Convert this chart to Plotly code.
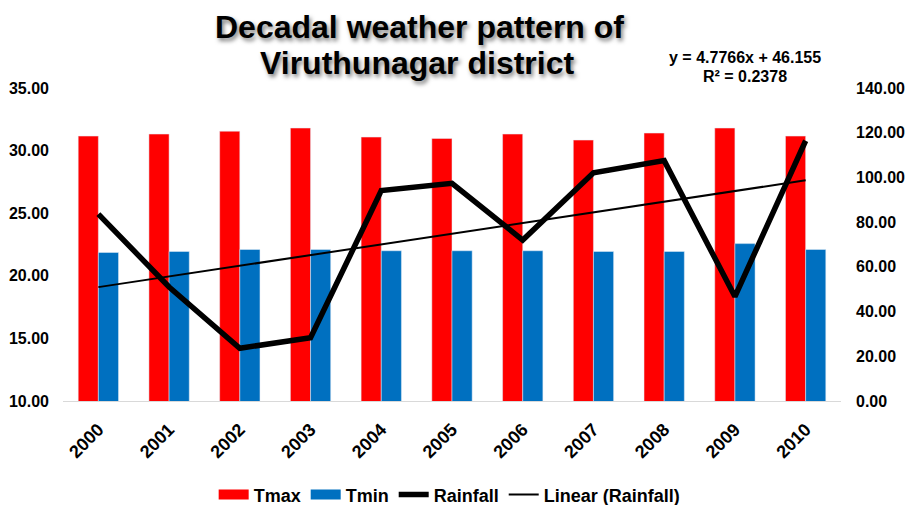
import plotly.graph_objects as go

years = ["2000", "2001", "2002", "2003", "2004", "2005", "2006", "2007", "2008", "2009", "2010"]
tmax = [31.16, 31.32, 31.55, 31.80, 31.08, 30.97, 31.32, 30.84, 31.40, 31.80, 31.16]
tmin = [21.86, 21.94, 22.10, 22.10, 22.00, 22.00, 22.00, 21.94, 21.94, 22.57, 22.10]
rainfall = [83.6, 51.0, 23.6, 28.3, 94.1, 97.4, 72.0, 102.1, 107.5, 46.7, 116.4]

# Linear trend as printed on the chart
trend_slope = 4.7766
trend_intercept = 46.155
trend_r2 = 0.2378
trend = [trend_slope * (i + 1) + trend_intercept for i in range(len(years))]

RED = "#FF0000"
BLUE = "#0070C0"
FONT = "Liberation Sans, Arial, sans-serif"

fig = go.Figure()
fig.add_trace(go.Bar(x=years, y=tmax, name="Tmax", marker_color=RED, yaxis="y", showlegend=False))
fig.add_trace(go.Bar(x=years, y=tmin, name="Tmin", marker_color=BLUE, yaxis="y", showlegend=False))
fig.add_trace(go.Scatter(x=years, y=rainfall, name="Rainfall", mode="lines",
                         line=dict(color="black", width=5.5), yaxis="y2", showlegend=False))
fig.add_trace(go.Scatter(x=years, y=trend, name="Linear (Rainfall)", mode="lines",
                         line=dict(color="black", width=2), yaxis="y2", showlegend=False))

# legend entries (wide swatches like the original)
for name, color, width in [("Tmax", RED, 12), ("Tmin", BLUE, 12),
                           ("Rainfall", "black", 5.5), ("Linear (Rainfall)", "black", 2)]:
    fig.add_trace(go.Scatter(x=[None], y=[None], name=name, mode="lines",
                             line=dict(color=color, width=width), showlegend=True,
                             hoverinfo="skip"))

fig.update_layout(
    width=914, height=505,
    margin=dict(l=63, r=73, t=88, b=104),
    paper_bgcolor="white", plot_bgcolor="white",
    barmode="group", bargap=0.43, bargroupgap=0,
    font=dict(family=FONT, color="black"),
    showlegend=True,
    legend=dict(orientation="h", x=0.497, xanchor="center", xref="paper",
                y=0.02, yanchor="middle", yref="container",
                font=dict(size=18, family=FONT, weight="bold"), traceorder="normal",
                itemwidth=30, bgcolor="rgba(0,0,0,0)"),
    xaxis=dict(type="category", tickangle=-45, showgrid=False, showline=True, automargin=False,
               linecolor="#D9D9D9", linewidth=1, ticks="", ticklabelstandoff=10,
               tickfont=dict(size=18, family=FONT, weight="bold")),
    yaxis=dict(range=[10, 35], dtick=5, tickformat=".2f", showgrid=False, showline=False,
               zeroline=False, ticks="", ticklabelstandoff=13, automargin=False,
               tickfont=dict(size=16, family=FONT, weight="bold")),
    yaxis2=dict(range=[0, 140], dtick=20, tickformat=".2f", overlaying="y", side="right",
                showgrid=False, showline=False, zeroline=False, ticks="", ticklabelstandoff=14,
                automargin=False,
                tickfont=dict(size=16, family=FONT, weight="bold")),
)

title_font = dict(size=32, family=FONT, weight="bold", color="black",
                  shadow="2px 3px 4px rgba(0,0,0,0.5)")
fig.add_annotation(text="Decadal weather pattern of", xref="paper", yref="paper",
                   x=0.458, y=1.195, xanchor="center", yanchor="middle",
                   showarrow=False, font=title_font)
fig.add_annotation(text="Viruthunagar district", xref="paper", yref="paper",
                   x=0.455, y=1.08, xanchor="center", yanchor="middle",
                   showarrow=False, font=title_font)

eq_font = dict(size=16, family=FONT, weight="bold", color="black")
fig.add_annotation(text=f"y = {trend_slope}x + {trend_intercept}", xref="paper", yref="paper",
                   x=0.877, y=1.099, xanchor="center", yanchor="middle",
                   showarrow=False, font=eq_font)
fig.add_annotation(text=f"R² = {trend_r2}", xref="paper", yref="paper",
                   x=0.877, y=1.036, xanchor="center", yanchor="middle",
                   showarrow=False, font=eq_font)

fig.write_html("out.html", config={"displayModeBar": False},
               post_script="document.body.style.margin='0';")
